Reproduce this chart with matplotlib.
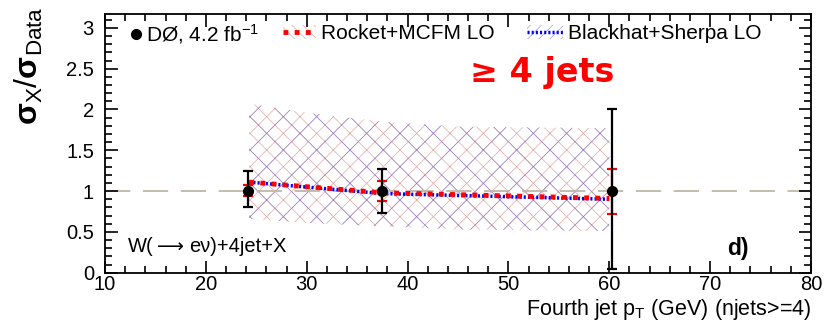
import matplotlib
matplotlib.use('Agg')
import matplotlib.pyplot as plt
from matplotlib.lines import Line2D
from matplotlib.patches import Patch
from matplotlib.ticker import MultipleLocator

plt.rcParams['font.family'] = ['Liberation Sans', 'DejaVu Sans']
plt.rcParams['mathtext.fontset'] = 'custom'
plt.rcParams['mathtext.rm'] = 'Liberation Sans'
plt.rcParams['mathtext.it'] = 'Liberation Sans:italic'
plt.rcParams['mathtext.bf'] = 'Liberation Sans:bold'
plt.rcParams['hatch.linewidth'] = 0.5

# data points (ratio to data = 1) with total and inner errors
data_x = [24.2, 37.5, 60.3]
data_y = [1.0, 1.0, 1.0]
data_err_lo = [0.20, 0.27, 0.95]
data_err_hi = [0.25, 0.27, 1.00]
inner_err_lo = [0.06, 0.12, 0.28]
inner_err_hi = [0.07, 0.12, 0.27]

# theory ratios
theo_x = [24.3, 37.5, 60.0]
rocket_y = [1.11, 0.98, 0.91]
blackhat_y = [1.11, 0.97, 0.90]

# theory uncertainty band
band_x = [24.3, 30.0, 37.5, 45.0, 60.0]
band_hi = [2.07, 1.96, 1.85, 1.79, 1.77]
band_lo = [0.66, 0.61, 0.57, 0.53, 0.51]

red_h = (0.85, 0.5, 0.5, 0.7)
blue_h = (0.45, 0.45, 0.85, 0.7)
red_ls = (0, (1.0, 1.3))
blue_ls = (0, (0.6, 0.6))

fig = plt.figure(figsize=(8.31, 3.31), dpi=100)
ax = fig.add_axes([0.1264, 0.1761, 0.8495, 0.7816])

ax.fill_between(band_x, band_lo, band_hi, facecolor='none',
                edgecolor=red_h, hatch='xx', linewidth=0)
ax.fill_between(band_x, band_lo, band_hi, facecolor='none',
                edgecolor=blue_h, hatch='x', linewidth=0)

ax.axhline(1.0, color='#bdb8a8', lw=1.3, dashes=(14, 7), zorder=1)

ax.plot(theo_x, blackhat_y, color='blue', lw=2.5, linestyle=blue_ls, zorder=3)
ax.plot(theo_x, rocket_y, color='red', lw=3.5, linestyle=red_ls, zorder=3)

ax.errorbar(data_x, data_y, yerr=[data_err_lo, data_err_hi], fmt='o', color='black',
            ms=7, lw=1.6, capsize=3.5, capthick=1.6, zorder=5)
ax.errorbar(data_x, data_y, yerr=[inner_err_lo, inner_err_hi], fmt='none', ecolor='red',
            lw=1.6, capsize=3.5, capthick=1.6, zorder=4)

ax.set_xlim(10, 80)
ax.set_ylim(0, 3.17)
ax.xaxis.set_major_locator(MultipleLocator(10))
ax.xaxis.set_minor_locator(MultipleLocator(2))
ax.yaxis.set_major_locator(MultipleLocator(0.5))
ax.yaxis.set_minor_locator(MultipleLocator(0.1))
ax.yaxis.set_major_formatter(lambda v, p: '%g' % v)
ax.tick_params(which='both', direction='in', top=True, right=True, labelsize=14.5, width=1.2)
ax.tick_params(which='major', length=9)
ax.tick_params(which='minor', length=5)
ax.tick_params(axis='x', pad=2)
ax.tick_params(axis='y', pad=8)
for s in ax.spines.values():
    s.set_linewidth(1.3)

ax.set_ylabel(r'$\mathbf{\sigma}_{\mathrm{X}}/\mathbf{\sigma}_{\mathrm{Data}}$', fontsize=23)
ax.yaxis.set_label_coords(-0.085, 0.8)
ax.set_xlabel(r'Fourth jet p$_{\mathrm{T}}$ (GeV) (njets>=4)', fontsize=15.5, ha='right')
ax.xaxis.set_label_coords(1.0, -0.095)

# W(-> e nu)+4jet+X, long arrow taken from DejaVu Sans
fig.text(128 / 831, 84 / 331, 'W(', fontsize=14.5, va='center')
fig.text(157 / 831, 84 / 331, '⟶', fontsize=13.5, va='center', family='DejaVu Sans')
fig.text(189 / 831, 84 / 331, 'eν)+4jet+X', fontsize=14.5, va='center')
ax.text(0.881, 0.093, 'd)', transform=ax.transAxes, fontsize=16.5, fontweight='bold', va='center')
ax.text(0.517, 0.775, '≥ 4 jets', transform=ax.transAxes, fontsize=24, fontweight='bold',
        color='red', va='center', family='DejaVu Sans')

leg_kw = dict(frameon=False, loc='center left', fontsize=15, borderaxespad=0,
              borderpad=0, handletextpad=0.25)
leg1 = ax.legend([Line2D([], [], marker='o', color='black', ls='none', ms=7)],
                 ['DØ, 4.2 fb$^{-1}$'], bbox_to_anchor=(0.036, 0.923),
                 handlelength=0.5, **leg_kw)
ax.add_artist(leg1)
leg2 = ax.legend([(Patch(facecolor='none', edgecolor=red_h, hatch='\\\\\\', lw=0),
                   Line2D([], [], color='red', lw=3.5, linestyle=red_ls))],
                 ['Rocket+MCFM LO'], bbox_to_anchor=(0.252, 0.923),
                 handlelength=1.6, **leg_kw)
ax.add_artist(leg2)
ax.legend([(Patch(facecolor='none', edgecolor=blue_h, hatch='///', lw=0),
            Line2D([], [], color='blue', lw=2.5, linestyle=blue_ls))],
          ['Blackhat+Sherpa LO'], bbox_to_anchor=(0.598, 0.923),
          handlelength=1.7, **leg_kw)

fig.savefig('out.png', dpi=100)
